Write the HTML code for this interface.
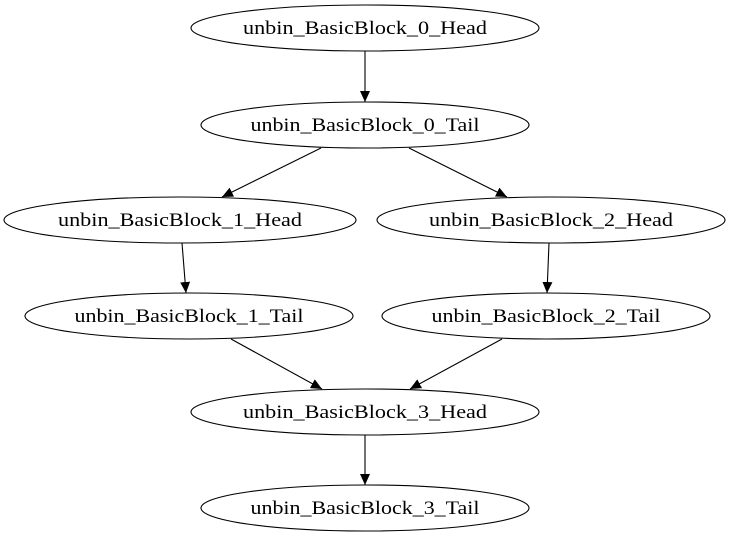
<!DOCTYPE html>
<html><head><meta charset="utf-8"><style>html,body{margin:0;padding:0;background:#fff}</style></head>
<body>
<svg width="731" height="539" xmlns="http://www.w3.org/2000/svg" font-family="'Liberation Serif', serif" font-size="18.5">
<defs><marker id="a" markerWidth="11" markerHeight="10" refX="11" refY="5" orient="auto" markerUnits="userSpaceOnUse"><path d="M0,0 L11,5 L0,10 z" fill="#000"/></marker></defs>
<g fill="none" stroke="#000" stroke-width="1.1">
<ellipse cx="365" cy="28" rx="174" ry="23"/>
<ellipse cx="365" cy="125" rx="164" ry="23"/>
<ellipse cx="180" cy="220" rx="176" ry="23"/>
<ellipse cx="551" cy="220" rx="174" ry="23"/>
<ellipse cx="189" cy="316" rx="164" ry="23"/>
<ellipse cx="546" cy="316" rx="164" ry="23"/>
<ellipse cx="365" cy="412" rx="174" ry="23"/>
<ellipse cx="365" cy="508" rx="164" ry="23"/>
<line x1="365" y1="51" x2="365" y2="102" marker-end="url(#a)"/>
<line x1="321" y1="148" x2="222" y2="197" marker-end="url(#a)"/>
<line x1="409" y1="148" x2="507" y2="197" marker-end="url(#a)"/>
<line x1="182" y1="243" x2="186" y2="293" marker-end="url(#a)"/>
<line x1="549" y1="243" x2="547" y2="293" marker-end="url(#a)"/>
<line x1="231" y1="339" x2="322" y2="389" marker-end="url(#a)"/>
<line x1="502" y1="339" x2="410" y2="389" marker-end="url(#a)"/>
<line x1="365" y1="435" x2="365" y2="485" marker-end="url(#a)"/>
</g>
<g text-anchor="middle" fill="#000">
<text x="365" y="34" textLength="244" lengthAdjust="spacingAndGlyphs">unbin_BasicBlock_0_Head</text>
<text x="365" y="131" textLength="229" lengthAdjust="spacingAndGlyphs">unbin_BasicBlock_0_Tail</text>
<text x="180" y="226" textLength="244" lengthAdjust="spacingAndGlyphs">unbin_BasicBlock_1_Head</text>
<text x="551" y="226" textLength="244" lengthAdjust="spacingAndGlyphs">unbin_BasicBlock_2_Head</text>
<text x="189" y="322" textLength="229" lengthAdjust="spacingAndGlyphs">unbin_BasicBlock_1_Tail</text>
<text x="546" y="322" textLength="229" lengthAdjust="spacingAndGlyphs">unbin_BasicBlock_2_Tail</text>
<text x="365" y="418" textLength="244" lengthAdjust="spacingAndGlyphs">unbin_BasicBlock_3_Head</text>
<text x="365" y="514" textLength="229" lengthAdjust="spacingAndGlyphs">unbin_BasicBlock_3_Tail</text>
</g>
</svg>
</body></html>
